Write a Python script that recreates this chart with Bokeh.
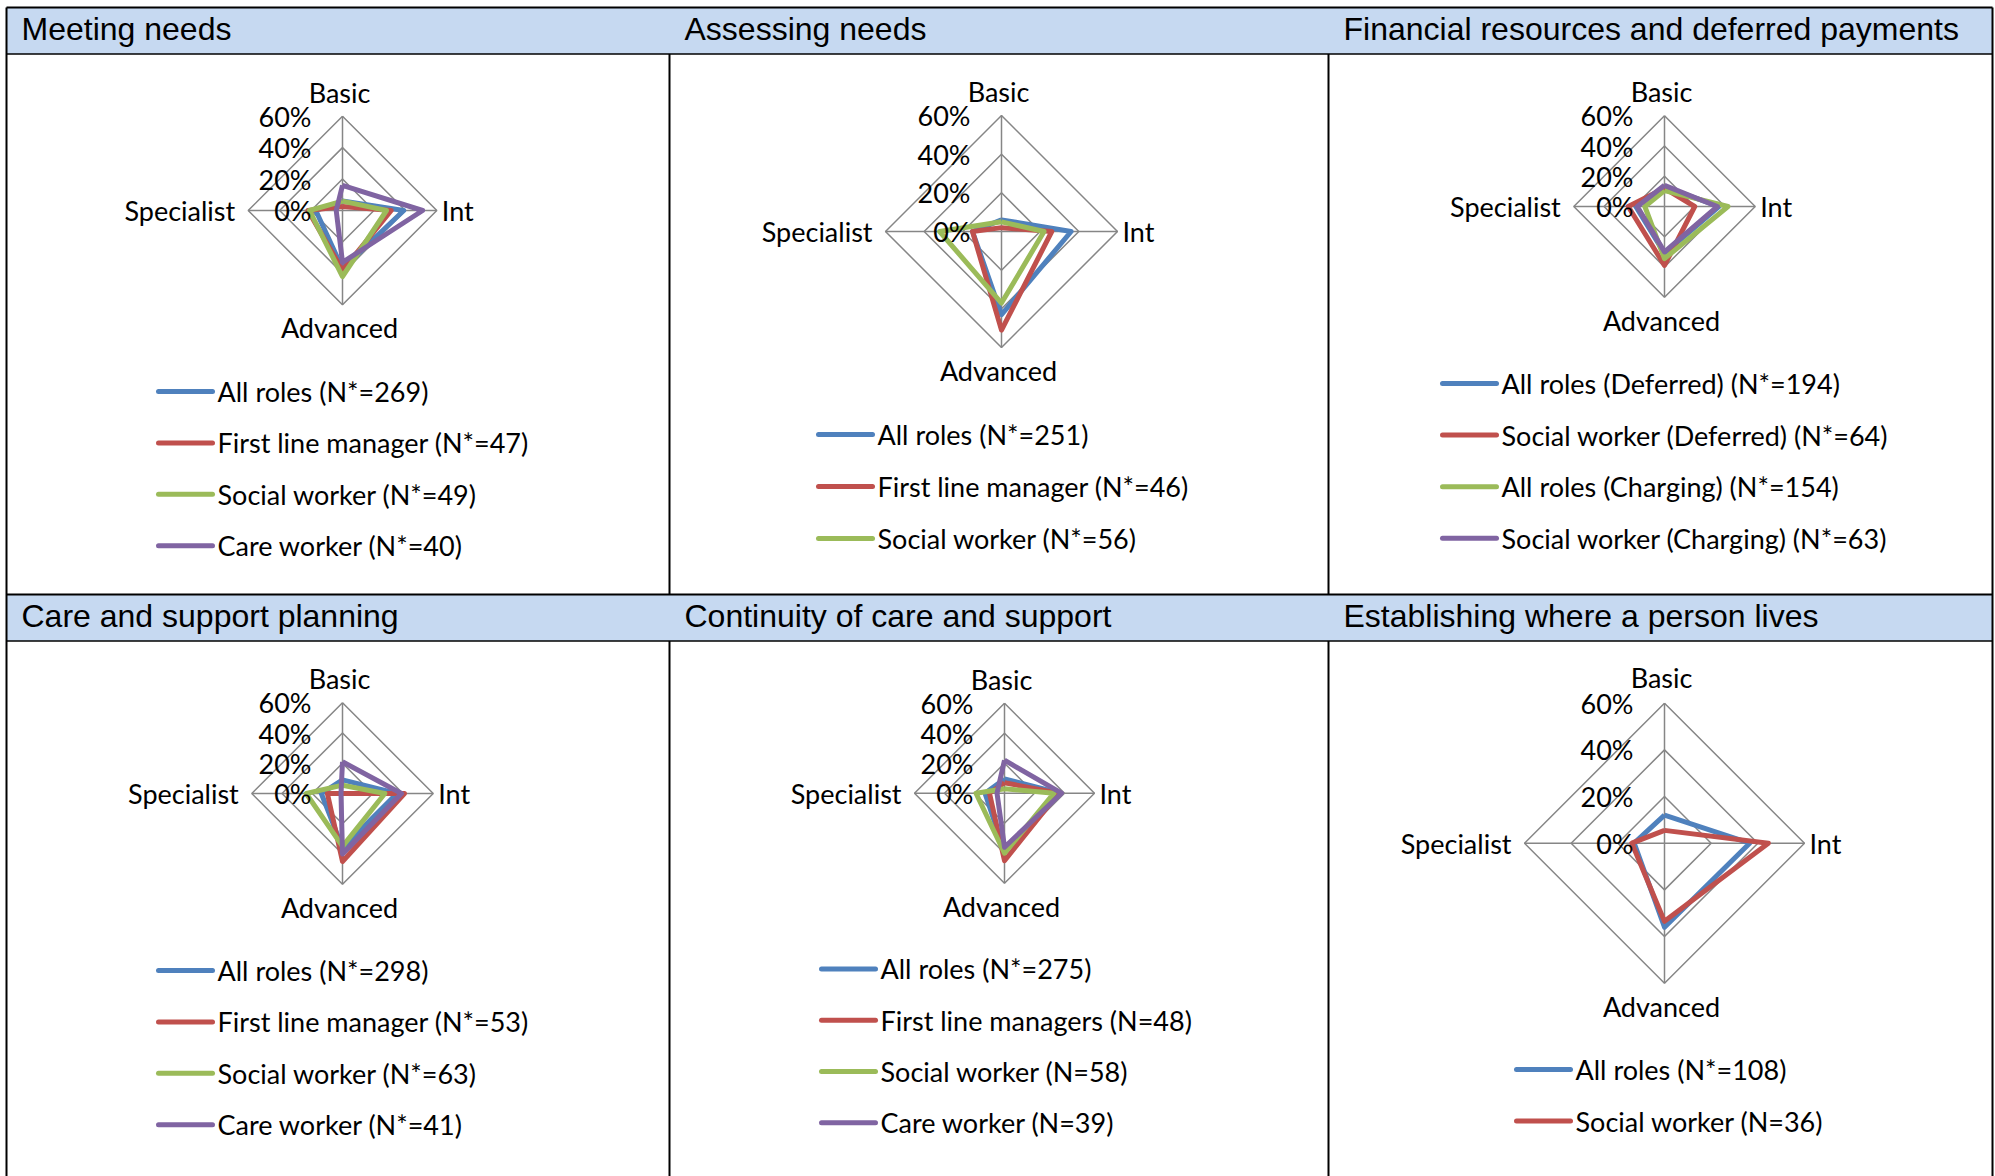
from bokeh.plotting import figure
from bokeh.models import Range1d
from bokeh.embed import file_html
from bokeh.resources import INLINE
from bokeh.core.properties import value

# ---------------------------------------------------------------- data
AXES = ["Basic", "Int", "Advanced", "Specialist"]
RING_LEVELS = [20, 40, 60]
TICK_LEVELS = [0, 20, 40, 60]
TICK_LABELS = ["0%", "20%", "40%", "60%"]
R_MAX = 60

# values in % for Basic, Int, Advanced, Specialist
MEETING_ALL = [6, 39, 37, 17]
MEETING_FLM = [2.5, 31, 38, 22]
MEETING_SW = [6, 28, 42, 21]
MEETING_CW = [16, 51, 33, 4]

ASSESS_ALL = [6, 36, 43, 15]
ASSESS_FLM = [2, 26, 51, 15]
ASSESS_SW = [5, 22, 37, 32]

FIN_ALL_DEF = [13, 36, 31, 19]
FIN_SW_DEF = [12, 20, 39, 24]
FIN_ALL_CHG = [10.5, 42, 34.5, 13]
FIN_SW_CHG = [14, 35, 30, 18]

CARE_ALL = [9, 36, 36, 14]
CARE_FLM = [0, 41, 45, 10]
CARE_SW = [5.5, 28, 35, 24]
CARE_CW = [21, 39, 40, 1]

CONT_ALL = [9.5, 37, 39, 13]
CONT_FLM = [7, 36, 45, 10]
CONT_SW = [3, 33, 40, 19]
CONT_CW = [22, 38, 36, 5]

ESTAB_ALL = [12, 36.5, 36, 13]
ESTAB_SW = [5.5, 44.5, 33.5, 14]

TITLES = [
    "Meeting needs",
    "Assessing needs",
    "Financial resources and deferred payments",
    "Care and support planning",
    "Continuity of care and support",
    "Establishing where a person lives",
]

BLUE, RED, GREEN, PURPLE = "#4F81BD", "#C0504D", "#9BBB59", "#8064A2"

SERIES = [
    [("All roles (N*=269)", MEETING_ALL, BLUE),
     ("First line manager (N*=47)", MEETING_FLM, RED),
     ("Social worker (N*=49)", MEETING_SW, GREEN),
     ("Care worker (N*=40)", MEETING_CW, PURPLE)],
    [("All roles (N*=251)", ASSESS_ALL, BLUE),
     ("First line manager (N*=46)", ASSESS_FLM, RED),
     ("Social worker (N*=56)", ASSESS_SW, GREEN)],
    [("All roles (Deferred) (N*=194)", FIN_ALL_DEF, BLUE),
     ("Social worker (Deferred) (N*=64)", FIN_SW_DEF, RED),
     ("All roles (Charging) (N*=154)", FIN_ALL_CHG, GREEN),
     ("Social worker (Charging) (N*=63)", FIN_SW_CHG, PURPLE)],
    [("All roles (N*=298)", CARE_ALL, BLUE),
     ("First line manager (N*=53)", CARE_FLM, RED),
     ("Social worker (N*=63)", CARE_SW, GREEN),
     ("Care worker (N*=41)", CARE_CW, PURPLE)],
    [("All roles (N*=275)", CONT_ALL, BLUE),
     ("First line managers (N=48)", CONT_FLM, RED),
     ("Social worker (N=58)", CONT_SW, GREEN),
     ("Care worker (N=39)", CONT_CW, PURPLE)],
    [("All roles (N*=108)", ESTAB_ALL, BLUE),
     ("Social worker (N=36)", ESTAB_SW, RED)],
]

# ---------------------------------------------------------------- layout
W, H = 1995, 1176
COL_X = [6, 669, 1328, 1992]
ROW_TOP = [7, 594]
HEADER_H = 46.5
BODY_BOTTOM = [594, 1176]

# radar centre, radius, legend swatch start, legend first row, row step
GEOM = [
    dict(cx=342, cy=210, r=94.3, lx=158, ly=391, dy=51.4, top_gap=24),
    dict(cx=1001, cy=231, r=116, lx=818, ly=434, dy=52, top_gap=24),
    dict(cx=1664, cy=206, r=90.7, lx=1442, ly=383, dy=51.6, top_gap=24),
    dict(cx=342, cy=793, r=90.7, lx=158, ly=970, dy=51.4, top_gap=24),
    dict(cx=1004, cy=792.7, r=90, lx=821, ly=968.4, dy=51.3, top_gap=24),
    dict(cx=1664, cy=842.7, r=140, lx=1516, ly=1069, dy=51.5, top_gap=26),
]

# spoke directions on screen (y grows downward): Basic, Int, Advanced, Specialist
DIRS = [(0, -1), (1, 0), (0, 1), (-1, 0)]

BODY_FONT = value("Lato")
BODY_SIZE = "27px"
GRID_COLOR = "#868686"
SERIES_WIDTH = 5

p = figure(width=W, height=H, output_backend="svg", toolbar_location=None,
           x_range=Range1d(0, W), y_range=Range1d(H, 0),
           min_border=0, outline_line_color=None, background_fill_color="white")
p.axis.visible = False
p.grid.visible = False

# header bands
for top in ROW_TOP:
    p.quad(left=[COL_X[0]], right=[COL_X[-1]], top=[top], bottom=[top + HEADER_H],
           fill_color="#C6D9F1", line_color=None)

# table rules
for top in ROW_TOP:
    p.line([COL_X[0], COL_X[-1]], [top, top], line_color="black", line_width=2)
    p.line([COL_X[0], COL_X[-1]], [top + HEADER_H, top + HEADER_H], line_color="black", line_width=1.5)
p.line([COL_X[0], COL_X[0]], [ROW_TOP[0], H], line_color="black", line_width=2)
p.line([COL_X[-1], COL_X[-1]], [ROW_TOP[0], H], line_color="black", line_width=2)
for ri, top in enumerate(ROW_TOP):
    for x in COL_X[1:-1]:
        p.line([x, x], [top + HEADER_H, BODY_BOTTOM[ri]], line_color="black", line_width=2)

# panel titles
tx, ty, tt = [], [], []
for i, title in enumerate(TITLES):
    row, col = divmod(i, 3)
    tx.append(COL_X[col] + 15)
    ty.append(ROW_TOP[row] + 21)
    tt.append(title)
p.text(x=tx, y=ty, text=tt, text_font=value("Liberation Sans"), text_font_size="32px",
       text_align="left", text_baseline="middle", text_color="black")


def radar_xy(g, vals):
    xs, ys = [], []
    for v, (dx, dy) in zip(vals, DIRS):
        k = v / R_MAX * g["r"]
        xs.append(g["cx"] + dx * k)
        ys.append(g["cy"] + dy * k)
    xs.append(xs[0])
    ys.append(ys[0])
    return xs, ys


for g, series in zip(GEOM, SERIES):
    cx, cy, r = g["cx"], g["cy"], g["r"]
    # grid rings and spokes
    for lvl in RING_LEVELS:
        xs, ys = radar_xy(g, [lvl] * 4)
        p.line(xs, ys, line_color=GRID_COLOR, line_width=1.5)
    for dx, dy in DIRS:
        p.line([cx, cx + dx * r], [cy, cy + dy * r], line_color=GRID_COLOR, line_width=1.5)

    # data series
    for label, vals, color in series:
        xs, ys = radar_xy(g, vals)
        p.line(xs, ys, line_color=color, line_width=SERIES_WIDTH, line_join="round")

    # category labels
    p.text(x=[cx - 3], y=[cy - r - g["top_gap"]], text=[AXES[0]], text_font=BODY_FONT,
           text_font_size=BODY_SIZE, text_align="center", text_baseline="middle")
    p.text(x=[cx + r + 5], y=[cy], text=[AXES[1]], text_font=BODY_FONT,
           text_font_size=BODY_SIZE, text_align="left", text_baseline="middle")
    p.text(x=[cx - 3], y=[cy + r + 23], text=[AXES[2]], text_font=BODY_FONT,
           text_font_size=BODY_SIZE, text_align="center", text_baseline="middle")
    p.text(x=[cx - r - 13], y=[cy], text=[AXES[3]], text_font=BODY_FONT,
           text_font_size=BODY_SIZE, text_align="right", text_baseline="middle")

    # value axis labels along the Basic spoke
    p.text(x=[cx - 31] * len(TICK_LEVELS),
           y=[cy - lvl / R_MAX * r for lvl in TICK_LEVELS],
           text=TICK_LABELS, text_font=BODY_FONT, text_font_size=BODY_SIZE,
           text_align="right", text_baseline="middle")

    # legend
    for k, (label, vals, color) in enumerate(series):
        y = g["ly"] + k * g["dy"]
        p.line([g["lx"], g["lx"] + 54], [y, y], line_color=color, line_width=SERIES_WIDTH, line_cap="round")
        p.text(x=[g["lx"] + 59], y=[y], text=[label], text_font=BODY_FONT,
               text_font_size=BODY_SIZE, text_align="left", text_baseline="middle")

open("out.html", "w").write(file_html(p, INLINE))
